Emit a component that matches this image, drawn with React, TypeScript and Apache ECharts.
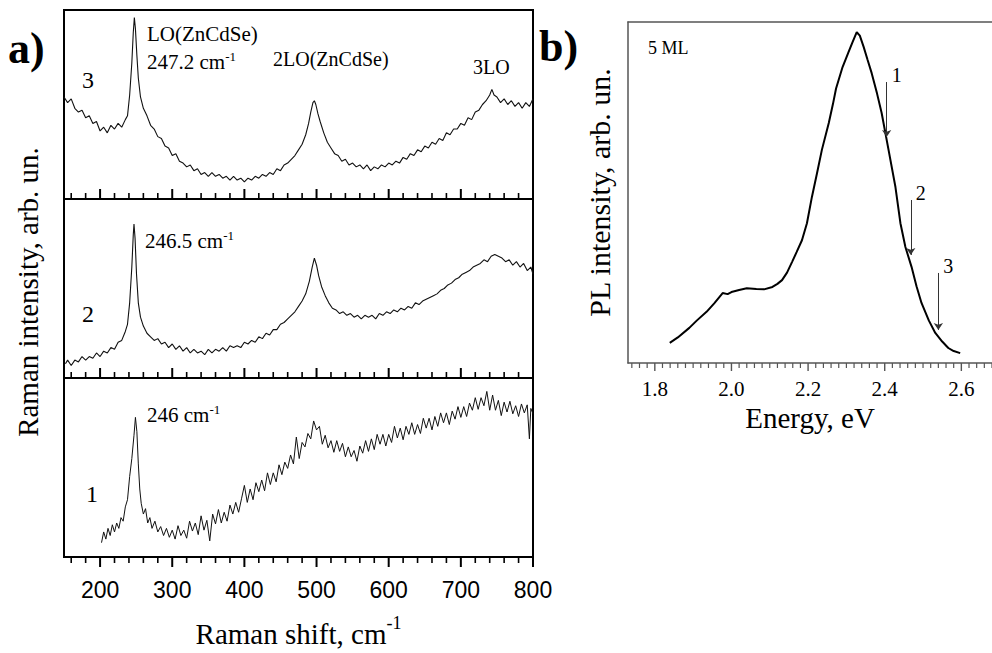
import React, { useEffect, useRef } from "react";
import * as echarts from "echarts";

// ---------- data (Raman shift in cm^-1, intensity in arbitrary units per panel) ----------
const spectrum3: [number, number][] = [
  [150, 54], [155, 51], [160, 53], [165, 48], [170, 46], [175, 47], [180, 43], [185, 44], [190, 40], [195, 41],
  [200, 36], [205, 38], [210, 35], [215, 39], [220, 37], [225, 40], [230, 38], [235, 42], [238, 44], [241, 55],
  [244, 72], [246, 88], [247.5, 96], [249, 90], [251, 76], [253, 64], [256, 54], [260, 48], [265, 44], [270, 39],
  [275, 37], [280, 33], [285, 32], [290, 28], [295, 27], [300, 23], [305, 24], [310, 20], [315, 19], [320, 17],
  [325, 18], [330, 15], [335, 16], [340, 13], [345, 14], [350, 12], [355, 14], [360, 12], [365, 13], [370, 11],
  [375, 12], [380, 10], [385, 12], [390, 10], [395, 11], [400, 9], [405, 11], [410, 10], [415, 12], [420, 11],
  [425, 13], [430, 12], [435, 14], [440, 13], [445, 16], [450, 15], [455, 18], [460, 19], [465, 21], [470, 23],
  [475, 26], [480, 29], [485, 34], [489, 40], [492, 46], [495, 51], [497, 52], [499, 50], [502, 45], [505, 41],
  [510, 35], [515, 30], [520, 27], [525, 24], [530, 23], [535, 20], [540, 21], [545, 18], [550, 19], [555, 17],
  [560, 18], [565, 16], [570, 18], [575, 15], [580, 17], [585, 16], [590, 18], [595, 17], [600, 19], [605, 18],
  [610, 20], [615, 19], [620, 22], [625, 21], [630, 24], [635, 23], [640, 26], [645, 25], [650, 28], [655, 27],
  [660, 30], [665, 29], [670, 32], [675, 31], [680, 35], [685, 34], [690, 37], [695, 37], [700, 40], [705, 39],
  [710, 43], [715, 42], [720, 46], [725, 47], [730, 50], [735, 52], [740, 55], [743, 58], [746, 55], [750, 54],
  [755, 51], [760, 53], [765, 50], [770, 52], [775, 49], [780, 51], [785, 48], [790, 51], [795, 49], [800, 53],
];

const spectrum2: [number, number][] = [
  [152, 8], [155, 10], [160, 7], [165, 10], [170, 9], [175, 12], [180, 10], [185, 12], [190, 11], [195, 14],
  [200, 12], [205, 15], [210, 14], [215, 17], [220, 16], [225, 20], [230, 21], [235, 26], [238, 30], [241, 42],
  [244, 62], [246, 80], [247, 86], [248.5, 78], [250.5, 58], [253, 42], [256, 34], [260, 29], [265, 25], [270, 23],
  [275, 21], [280, 22], [285, 19], [290, 20], [295, 17], [300, 19], [305, 16], [310, 18], [315, 15], [320, 17],
  [325, 14], [330, 16], [335, 14], [340, 15], [345, 13], [350, 16], [355, 14], [360, 16], [365, 15], [370, 17],
  [375, 15], [380, 18], [385, 17], [390, 18], [395, 17], [400, 20], [405, 19], [410, 21], [415, 20], [420, 23],
  [425, 22], [430, 25], [435, 24], [440, 27], [445, 27], [450, 30], [455, 31], [460, 33], [465, 35], [470, 37],
  [475, 40], [480, 43], [485, 47], [490, 54], [494, 62], [497, 67], [500, 63], [503, 57], [507, 51], [512, 46],
  [517, 42], [522, 39], [527, 38], [532, 36], [537, 37], [542, 35], [547, 36], [552, 34], [557, 35], [562, 33],
  [567, 35], [572, 34], [577, 35], [582, 33], [587, 36], [592, 35], [597, 37], [602, 36], [607, 38], [612, 37],
  [617, 39], [622, 38], [627, 40], [632, 39], [637, 42], [642, 41], [647, 43], [652, 44], [657, 45], [662, 46],
  [667, 47], [672, 49], [677, 50], [682, 52], [687, 53], [692, 55], [697, 56], [702, 58], [707, 59], [712, 60],
  [717, 62], [722, 63], [727, 64], [732, 66], [737, 65], [742, 68], [747, 69], [752, 68], [757, 67], [762, 65],
  [767, 66], [772, 63], [777, 65], [782, 62], [787, 64], [792, 60], [797, 62], [800, 58],
];

const spectrum1: [number, number][] = [
  [202, 8], [205, 14], [208, 10], [211, 16], [214, 12], [217, 18], [220, 14], [223, 19], [226, 16], [229, 22],
  [232, 20], [235, 28], [238, 32], [241, 45], [244, 55], [247, 68], [249, 78], [251, 70], [253, 52], [255, 38],
  [257, 30], [260, 24], [263, 27], [266, 19], [269, 22], [272, 16], [276, 20], [280, 14], [284, 17], [288, 12],
  [292, 16], [296, 11], [300, 15], [304, 10], [308, 17.5], [312, 12], [316, 15], [320, 10.5], [324, 20], [328, 14.5],
  [332, 19], [336, 12.5], [340, 23], [344, 15], [348, 20.5], [352, 9], [356, 24], [360, 18.5], [364, 26.5], [368, 19],
  [372, 25], [376, 20], [380, 29], [384, 24], [388, 30.5], [392, 25], [396, 32.5], [400, 40], [404, 30.5], [408, 38],
  [412, 32], [416, 41.5], [420, 36.5], [424, 43], [428, 37], [432, 47], [436, 40.5], [440, 47], [444, 42], [448, 51.5],
  [452, 46], [456, 53], [460, 49.5], [464, 57], [468, 52], [472, 67], [476, 55], [480, 64], [484, 61.5], [488, 69],
  [492, 66], [496, 76], [500, 71], [504, 73], [508, 63], [512, 68], [516, 61], [520, 65], [524, 58.5], [528, 65],
  [532, 59], [536, 63.5], [540, 56], [544, 61.5], [548, 56], [552, 59.5], [556, 53.5], [560, 62], [564, 58], [568, 65],
  [572, 59], [576, 66], [580, 60], [584, 68.5], [588, 63], [592, 68.5], [596, 62], [600, 68.5], [604, 64], [608, 73],
  [612, 66.5], [616, 72], [620, 65.5], [624, 73], [628, 68.5], [632, 75], [636, 68.5], [640, 74], [644, 69], [648, 77.5],
  [652, 72], [656, 77.5], [660, 71], [664, 78.5], [668, 73], [672, 80.5], [676, 75], [680, 80.5], [684, 74], [688, 81.5],
  [692, 77], [696, 84], [700, 78], [704, 84], [708, 78.5], [712, 86], [716, 82], [720, 89], [724, 82.5], [728, 89],
  [732, 84.5], [736, 92.5], [740, 82], [744, 90.5], [748, 82], [752, 87.5], [756, 79], [760, 86.5], [764, 81], [768, 87],
  [772, 80], [776, 84.5], [780, 78.5], [784, 85.5], [788, 80.5], [792, 85], [795, 66], [797, 83], [800, 80],
];

// PL spectrum (energy in eV, intensity in arb. un.)
const plEnergy = [
  1.839, 1.86, 1.89, 1.91, 1.935, 1.955, 1.977, 1.99, 2.0, 2.02, 2.04, 2.065, 2.085, 2.107, 2.12, 2.132,
  2.145, 2.158, 2.17, 2.184, 2.197, 2.21, 2.223, 2.236, 2.254, 2.265, 2.273, 2.29, 2.305, 2.315, 2.327,
  2.335, 2.345, 2.355, 2.366, 2.38, 2.392, 2.41, 2.428, 2.441, 2.454, 2.47, 2.483, 2.496, 2.515, 2.532,
  2.55, 2.566, 2.58, 2.597,
];
const plIntensity = [
  5.9, 7.5, 10.3, 12.5, 15, 17.5, 20.5, 20.2, 20.8, 21.4, 21.9, 21.7, 21.6, 22.3, 23.2, 24.3,
  26.5, 29.6, 32.5, 36, 41, 48.7, 55.5, 62.5, 70.4, 76, 80.5, 86.8, 91, 93.8, 97,
  96, 92.7, 89, 85, 79, 73.3, 62.5, 51.6, 41, 34, 28.2, 22.5, 17.6, 12.5, 8.8,
  6.3, 4.4, 3.5, 2.9,
];

// arrows marking excitation energies
const arrowLabels = ["1", "2", "3"];
const arrowEnergy = [2.405, 2.468, 2.54];
const arrowFrom = [82.4, 47.8, 26.4];
const arrowTo = [66.3, 31.7, 9.7];

// ticks
const ramanMajorTicks = [200, 300, 400, 500, 600, 700, 800];
const ramanMinorTicks = [160, 180, 220, 240, 260, 280, 320, 340, 360, 380, 420, 440, 460, 480, 520, 540, 560, 580, 620, 640, 660, 680, 720, 740, 760, 780];
const energyMajorTicks = [1.8, 2.0, 2.2, 2.4, 2.6];

const SERIF = '"Liberation Serif", "Times New Roman", serif';
const SANS = '"Liberation Sans", Arial, sans-serif';

function energyMinorTicks(): number[] {
  const out: number[] = [];
  for (let k = 87; k <= 134; k++) {
    if (k % 10 !== 0) out.push(Math.round(k * 2) / 100);
  }
  return out;
}

// tick marks drawn as thin rectangles placed on the axis through the axis scale
function tickSeries(xAxisIndex: number, yAxisIndex: number, values: number[], len: number, dir: number, width: number, color: string) {
  return {
    type: "scatter",
    xAxisIndex,
    yAxisIndex,
    clip: false,
    silent: true,
    z: 5,
    symbol: "rect",
    symbolSize: [width, len],
    symbolOffset: [0, (dir * len) / 2],
    itemStyle: { color, opacity: 1 },
    emphasis: { disabled: true },
    data: values.map((v) => [v, 0]),
  };
}

export default function App() {
  const ref = useRef<HTMLDivElement>(null);

  useEffect(() => {
    if (!ref.current) return;
    const chart = echarts.init(ref.current, undefined, { renderer: "svg" });

    const gridA = (top: number, height: number) => ({
      left: 64, top, width: 469, height,
      show: true, borderColor: "#000", borderWidth: 2, backgroundColor: "transparent",
    });

    const ramanAxis = (gridIndex: number, showLabels: boolean) => ({
      type: "value", gridIndex, min: 150, max: 800, position: "bottom",
      axisLine: { show: false },
      splitLine: { show: false },
      axisTick: { show: false },
      axisLabel: showLabels
        ? { show: true, customValues: ramanMajorTicks, margin: 21, color: "#000", fontFamily: SANS, fontSize: 23 }
        : { show: false },
    });

    const hiddenY = (gridIndex: number) => ({
      type: "value", gridIndex, min: 0, max: 100,
      axisLine: { show: false }, axisTick: { show: false }, axisLabel: { show: false }, splitLine: { show: false },
    });

    const option: any = {
      animation: false,
      backgroundColor: "#fff",
      grid: [
        gridA(10, 189),
        gridA(199, 179),
        gridA(378, 179),
        { left: 628, top: 22, right: 0, height: 341, show: false },
      ],
      xAxis: [
        ramanAxis(0, false),
        ramanAxis(1, false),
        {
          ...ramanAxis(2, true),
          name: "{a|Raman shift, cm}{s|-1}",
          nameLocation: "middle",
          nameGap: 57,
          nameTextStyle: {
            rich: {
              a: { fontFamily: SERIF, fontSize: 29, color: "#000", lineHeight: 34, verticalAlign: "bottom" },
              s: { fontFamily: SERIF, fontSize: 18, color: "#000", lineHeight: 12, verticalAlign: "top" },
            },
          },
        },
        {
          type: "value", gridIndex: 3, min: 1.73, max: 2.68, position: "bottom",
          axisLine: { show: true, lineStyle: { color: "#555", width: 1.5 } },
          splitLine: { show: false },
          axisTick: { show: false },
          axisLabel: {
            show: true, customValues: energyMajorTicks, margin: 15, color: "#000", fontFamily: SERIF, fontSize: 21,
            formatter: (v: number) => v.toFixed(1),
          },
          name: "Energy, eV",
          nameLocation: "middle",
          nameGap: 38,
          nameTextStyle: { fontFamily: SERIF, fontSize: 29, color: "#000" },
        },
        {
          type: "value", gridIndex: 3, min: 1.73, max: 2.68, position: "top",
          axisLine: { show: true, lineStyle: { color: "#555", width: 1.5 } },
          axisTick: { show: false }, axisLabel: { show: false }, splitLine: { show: false },
        },
      ],
      yAxis: [
        hiddenY(0),
        hiddenY(1),
        hiddenY(2),
        {
          type: "value", gridIndex: 3, min: 0, max: 100,
          axisLine: { show: true, lineStyle: { color: "#555", width: 1.5 } },
          axisTick: { show: false }, axisLabel: { show: false }, splitLine: { show: false },
          name: "PL intensity, arb. un.",
          nameLocation: "middle",
          nameGap: 14,
          nameTextStyle: { fontFamily: SERIF, fontSize: 30, color: "#000" },
        },
      ],
      series: [
        {
          type: "line", xAxisIndex: 0, yAxisIndex: 0, data: spectrum3, showSymbol: false, silent: true,
          lineStyle: { color: "#111", width: 1.1 },
        },
        {
          type: "line", xAxisIndex: 1, yAxisIndex: 1, data: spectrum2, showSymbol: false, silent: true,
          lineStyle: { color: "#111", width: 1.1 },
        },
        {
          type: "line", xAxisIndex: 2, yAxisIndex: 2, data: spectrum1, showSymbol: false, silent: true,
          lineStyle: { color: "#111", width: 1 },
        },
        {
          type: "line", xAxisIndex: 3, yAxisIndex: 3,
          data: plEnergy.map((e, i) => [e, plIntensity[i]]),
          showSymbol: false, silent: true,
          lineStyle: { color: "#000", width: 2 },
          markLine: {
            silent: true,
            symbol: ["none", "arrow"],
            symbolSize: 7,
            label: { show: false },
            lineStyle: { color: "#333", width: 1, type: "solid" },
            emphasis: { disabled: true },
            data: arrowEnergy.map((e, i) => [
              { coord: [e, arrowFrom[i]] },
              { coord: [e, arrowTo[i]] },
            ]),
          },
        },
        // tick marks: top and middle Raman panels (inward), bottom panel (outward), PL panel (outward)
        tickSeries(0, 0, ramanMajorTicks, 10, -1, 2, "#000"),
        tickSeries(0, 0, ramanMinorTicks, 6, -1, 1.6, "#000"),
        tickSeries(1, 1, ramanMajorTicks, 10, -1, 2, "#000"),
        tickSeries(1, 1, ramanMinorTicks, 6, -1, 1.6, "#000"),
        tickSeries(2, 2, ramanMajorTicks, 10, 1, 2, "#000"),
        tickSeries(2, 2, ramanMinorTicks, 6, 1, 1.6, "#000"),
        tickSeries(3, 3, energyMajorTicks, 8, 1, 1.4, "#555"),
        tickSeries(3, 3, energyMinorTicks(), 5, 1, 1.2, "#555"),
      ],
    };

    chart.setOption(option);

    const supRich = {
      a: { fontFamily: SERIF, fontSize: 21, fill: "#000", lineHeight: 22, verticalAlign: "bottom" },
      s: { fontFamily: SERIF, fontSize: 13, fill: "#000", lineHeight: 8, verticalAlign: "top" },
    };

    const graphics: any[] = [
      { type: "text", x: 8, y: 48, style: { text: "a)", fontFamily: SERIF, fontSize: 44, fontWeight: "bold", fill: "#000", verticalAlign: "middle" } },
      { type: "text", x: 539, y: 46, style: { text: "b)", fontFamily: SERIF, fontSize: 44, fontWeight: "bold", fill: "#000", verticalAlign: "middle" } },
      {
        type: "text", x: 28, y: 292, rotation: Math.PI / 2,
        style: { text: "Raman intensity, arb. un.", fontFamily: SERIF, fontSize: 29, fill: "#000", align: "center", verticalAlign: "middle" },
      },
      { type: "text", x: 82, y: 80, style: { text: "3", fontFamily: SERIF, fontSize: 24, fill: "#000", verticalAlign: "middle" } },
      { type: "text", x: 82, y: 314, style: { text: "2", fontFamily: SERIF, fontSize: 24, fill: "#000", verticalAlign: "middle" } },
      { type: "text", x: 86, y: 494, style: { text: "1", fontFamily: SERIF, fontSize: 24, fill: "#000", verticalAlign: "middle" } },
      { type: "text", x: 147, y: 34, style: { text: "LO(ZnCdSe)", fontFamily: SERIF, fontSize: 21, fill: "#000", verticalAlign: "middle" } },
      { type: "text", x: 147, y: 61, style: { text: "{a|247.2 cm}{s|-1}", verticalAlign: "middle", rich: supRich } },
      { type: "text", x: 273, y: 59, style: { text: "2LO(ZnCdSe)", fontFamily: SERIF, fontSize: 20, fill: "#000", verticalAlign: "middle" } },
      { type: "text", x: 473, y: 67, style: { text: "3LO", fontFamily: SERIF, fontSize: 20, fill: "#000", verticalAlign: "middle" } },
      { type: "text", x: 145, y: 240, style: { text: "{a|246.5 cm}{s|-1}", verticalAlign: "middle", rich: supRich } },
      { type: "text", x: 147, y: 414, style: { text: "{a|246 cm}{s|-1}", verticalAlign: "middle", rich: supRich } },
      { type: "text", x: 648, y: 48, style: { text: "5 ML", fontFamily: SERIF, fontSize: 18, fill: "#000", verticalAlign: "middle" } },
    ];

    arrowEnergy.forEach((e, i) => {
      const p = chart.convertToPixel({ gridIndex: 3 } as any, [e, arrowFrom[i]]) as number[];
      if (p) {
        graphics.push({
          type: "text", x: p[0] + 5, y: p[1] - 7,
          style: { text: arrowLabels[i], fontFamily: SERIF, fontSize: 20, fill: "#000", verticalAlign: "middle" },
        });
      }
    });

    chart.setOption({ graphic: graphics });

    return () => chart.dispose();
  }, []);

  return (
    <div
      ref={ref}
      style={{ position: "fixed", left: 0, top: 0, width: 992, height: 653, background: "#fff" }}
    />
  );
}
